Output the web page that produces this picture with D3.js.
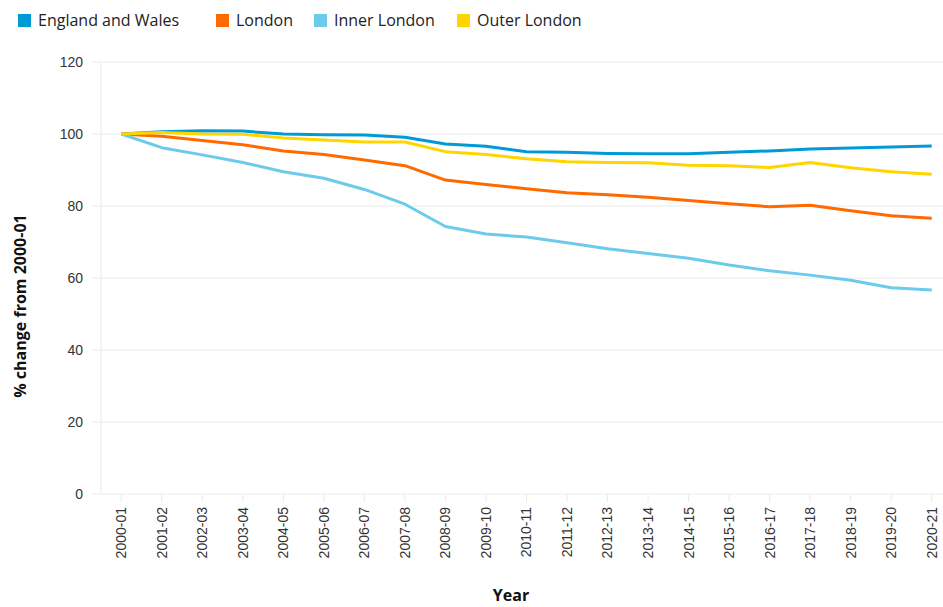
<!DOCTYPE html>
<html>
<head>
<meta charset="utf-8">
<script src="https://cdn.jsdelivr.net/npm/d3@7"></script>
<style>
  body { margin: 0; background: #fff; }
  svg { font-family: "Open Sans", "Noto Sans", sans-serif; }
</style>
</head>
<body>
<div id="chart"></div>
<script>
const years = ["2000-01", "2001-02", "2002-03", "2003-04", "2004-05", "2005-06", "2006-07",
  "2007-08", "2008-09", "2009-10", "2010-11", "2011-12", "2012-13", "2013-14", "2014-15",
  "2015-16", "2016-17", "2017-18", "2018-19", "2019-20", "2020-21"];

const englandWales = [100, 100.6, 100.9, 100.8, 100.0, 99.8, 99.7, 99.1, 97.2, 96.6, 95.1,
  94.9, 94.6, 94.5, 94.5, 94.9, 95.3, 95.8, 96.1, 96.4, 96.7];
const london = [100, 99.4, 98.2, 97.0, 95.3, 94.3, 92.8, 91.2, 87.2, 86.0, 84.8,
  83.7, 83.1, 82.4, 81.5, 80.6, 79.8, 80.2, 78.7, 77.3, 76.6];
const innerLondon = [100, 96.2, 94.2, 92.1, 89.5, 87.7, 84.6, 80.5, 74.3, 72.2, 71.4,
  69.8, 68.1, 66.8, 65.5, 63.6, 62.0, 60.8, 59.4, 57.3, 56.7];
const outerLondon = [100, 100.4, 100.0, 99.9, 98.9, 98.3, 97.8, 97.8, 95.1, 94.3, 93.1,
  92.3, 92.1, 92.0, 91.3, 91.2, 90.7, 92.1, 90.6, 89.5, 88.8];

const yTicks = [0, 20, 40, 60, 80, 100, 120];

const series = [
  { name: "England and Wales", values: englandWales, color: "#009bd6" },
  { name: "London", values: london, color: "#ff6a00" },
  { name: "Inner London", values: innerLondon, color: "#6ccbea" },
  { name: "Outer London", values: outerLondon, color: "#ffd500" }
];

const width = 943, height = 607;
const margin = { top: 62, left: 101, bottom: 113 };
const plotRight = 952;

const svg = d3.select("#chart").append("svg")
  .attr("width", width)
  .attr("height", height);

const x = d3.scaleBand()
  .domain(years)
  .range([margin.left, plotRight]);

const y = d3.scaleLinear()
  .domain([0, 120])
  .range([height - margin.bottom, margin.top]);

// grid lines
svg.append("g")
  .selectAll("line")
  .data(yTicks)
  .join("line")
  .attr("x1", 92)
  .attr("x2", plotRight)
  .attr("y1", d => y(d))
  .attr("y2", d => y(d))
  .attr("stroke", "#ebebeb")
  .attr("stroke-width", 1);

svg.append("line")
  .attr("x1", margin.left).attr("x2", margin.left)
  .attr("y1", y(120)).attr("y2", y(0))
  .attr("stroke", "#ebebeb");

// Y axis
const yAxis = svg.append("g")
  .attr("transform", `translate(${margin.left - 9},0)`)
  .call(d3.axisLeft(y).tickValues(yTicks).tickSize(0).tickPadding(9));
yAxis.select(".domain").remove();
yAxis.selectAll("text")
  .attr("fill", "#333")
  .style("font-size", "14px");

// X axis
const xAxis = svg.append("g")
  .attr("transform", `translate(0,${y(0)})`)
  .call(d3.axisBottom(x).tickSize(8).tickPadding(6));
xAxis.select(".domain").remove();
xAxis.selectAll(".tick line").attr("stroke", "#ebebeb");
xAxis.selectAll("text")
  .attr("fill", "#333")
  .style("font-size", "14px")
  .attr("transform", "rotate(-90)")
  .attr("x", -13)
  .attr("y", 0)
  .attr("dy", "0.35em")
  .style("text-anchor", "end");

// Lines
const line = d3.line()
  .x((d, i) => x(years[i]) + x.bandwidth() / 2)
  .y(d => y(d));

svg.append("g")
  .selectAll("path")
  .data(series)
  .join("path")
  .attr("d", d => line(d.values))
  .attr("fill", "none")
  .attr("stroke", d => d.color)
  .attr("stroke-width", 3)
  .attr("stroke-linejoin", "round");

// Axis titles
svg.append("text")
  .attr("transform", "translate(26,306) rotate(-90)")
  .attr("text-anchor", "middle")
  .style("font-size", "16px")
  .style("font-weight", "bold")
  .attr("fill", "#111")
  .text("% change from 2000-01");

svg.append("text")
  .attr("x", 511)
  .attr("y", 601)
  .attr("text-anchor", "middle")
  .style("font-size", "16px")
  .style("font-weight", "bold")
  .attr("fill", "#111")
  .text("Year");

// Legend
const legendX = [18, 216, 314, 457];
const legend = svg.append("g")
  .selectAll("g")
  .data(series)
  .join("g")
  .attr("transform", (d, i) => `translate(${legendX[i]},14)`);

legend.append("rect")
  .attr("width", 13)
  .attr("height", 13)
  .attr("fill", d => d.color);

legend.append("text")
  .attr("x", 20)
  .attr("y", 12)
  .style("font-size", "16px")
  .attr("fill", "#222")
  .text(d => d.name);
</script>
</body>
</html>
